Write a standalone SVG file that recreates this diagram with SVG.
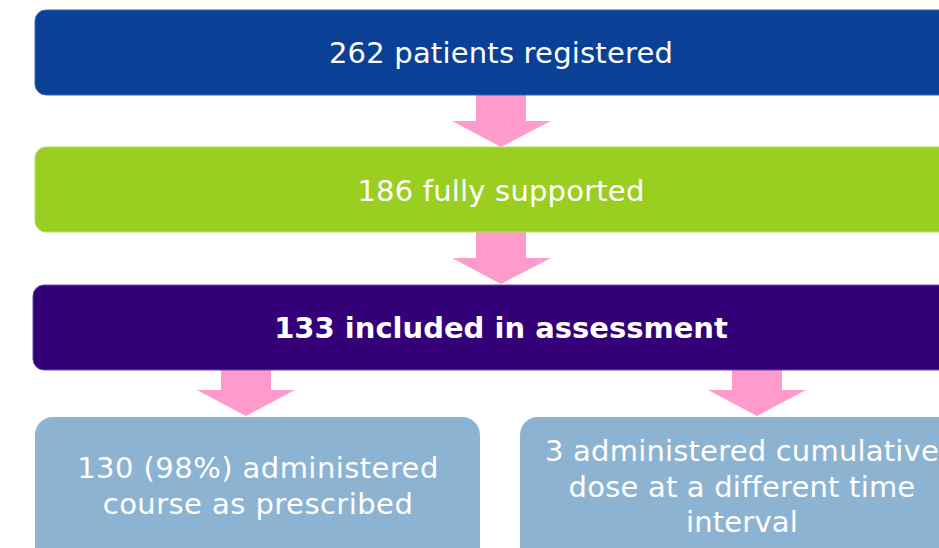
<svg xmlns="http://www.w3.org/2000/svg" width="939" height="548" viewBox="0 0 939 548">
<style>
.t{font-family:"DejaVu Sans",Verdana,sans-serif;font-size:29px;fill:#ffffff;text-anchor:middle;letter-spacing:0.2px}
.b{font-weight:bold;letter-spacing:0}
.w{letter-spacing:0.45px}
.arr{fill:#ff9acc}
</style>
<rect x="0" y="0" width="939" height="548" fill="#ffffff"/>
<g id="connectors">
<polygon class="arr" points="476,95 526,95 526,121 551,121 501,147 452,121 476,121"/>
<polygon class="arr" points="476,232 526,232 526,258 551,258 501,284 452,258 476,258"/>
<polygon class="arr" points="221,370 271,370 271,390 295,390 246,416 197,390 221,390"/>
<polygon class="arr" points="732,370 782,370 782,390 806,390 757,416 708,390 732,390"/>
</g>
<g id="n1">
<rect x="35" y="10" width="932" height="85" rx="11" fill="#0a4196" stroke="#3566b5" stroke-width="1"/>
<text class="t" x="501" y="63">262 patients registered</text>
</g>
<g id="n2">
<rect x="35" y="147" width="932" height="85" rx="11" fill="#9acf22" stroke="#b5dc64" stroke-width="1"/>
<text class="t" x="501" y="201">186 fully supported</text>
</g>
<g id="n3">
<rect x="33" y="285" width="934" height="85" rx="11" fill="#330078" stroke="#6a4aa8" stroke-width="1"/>
<text class="t b" x="501" y="338">133 included in assessment</text>
</g>
<g id="n4">
<rect x="35" y="417" width="445" height="150" rx="18" fill="#8db3d3"/>
<text class="t w" x="258" y="478">130 (98%) administered</text>
<text class="t w" x="258" y="514">course as prescribed</text>
</g>
<g id="n5">
<rect x="520" y="417" width="444" height="150" rx="18" fill="#8db3d3"/>
<text class="t" x="742" y="461">3 administered cumulative</text>
<text class="t" x="742" y="497">dose at a different time</text>
<text class="t" x="742" y="532">interval</text>
</g>
</svg>
